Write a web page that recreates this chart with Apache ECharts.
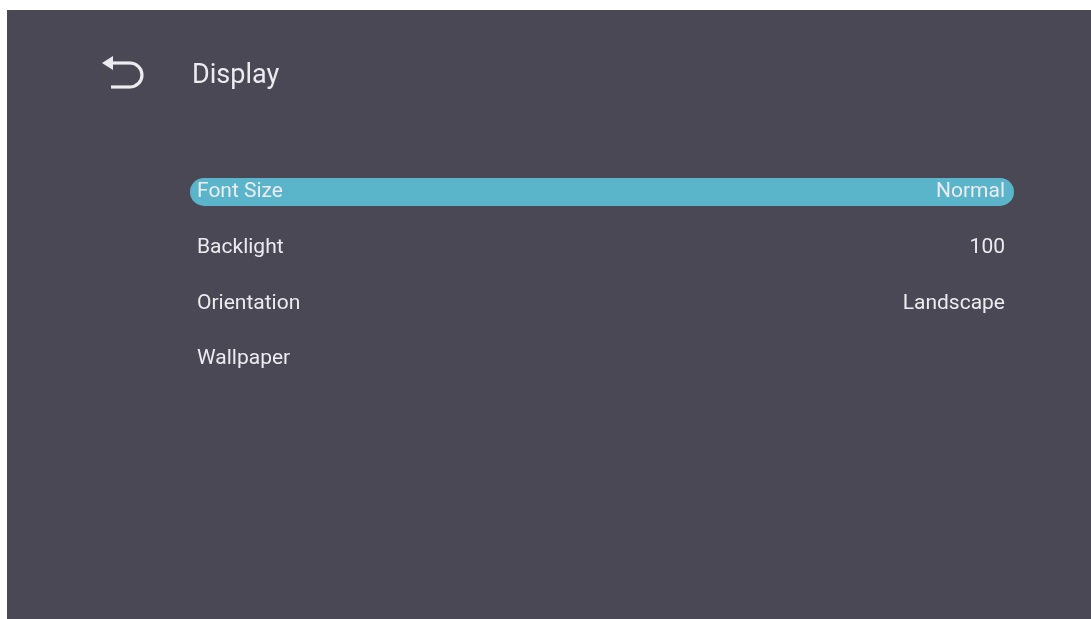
<!DOCTYPE html>
<html>
<head>
<meta charset="utf-8">
<script src="https://cdn.jsdelivr.net/npm/echarts@6/dist/echarts.min.js"></script>
<style>
  html, body { margin: 0; padding: 0; background: #ffffff; }
  #settingsChart { width: 1091px; height: 619px; }
</style>
</head>
<body>
<div id="settingsChart"></div>
<script>
const pageTitle = 'Display';
const items = ['Font Size', 'Backlight', 'Orientation', 'Wallpaper'];
const itemValues = ['Normal', '100', 'Landscape', ''];
const selected = [1, 0, 0, 0]; // baris yang sedang dipilih

const chartDom = document.getElementById('settingsChart');
const myChart = echarts.init(chartDom);

const textColor = '#ececf0';

const option = {
    backgroundColor: '#ffffff',
    animation: false,
    graphic: [
        {
            type: 'rect',
            z: -10,
            shape: { x: 7, y: 10, width: 1084, height: 609 },
            style: { fill: '#4b4856' }
        },
        // ikon kembali
        {
            type: 'polyline',
            shape: { points: [[110, 63], [130, 63]] },
            style: { stroke: textColor, lineWidth: 3.2, fill: null }
        },
        {
            type: 'arc',
            shape: { cx: 130, cy: 75, r: 12, startAngle: -Math.PI / 2, endAngle: Math.PI / 2, clockwise: true },
            style: { stroke: textColor, lineWidth: 3.2, fill: null }
        },
        {
            type: 'polyline',
            shape: { points: [[130, 87], [111, 87]] },
            style: { stroke: textColor, lineWidth: 3.2, fill: null }
        },
        {
            type: 'polygon',
            shape: { points: [[102, 63], [113, 56], [113, 70]] },
            style: { fill: textColor }
        },
        {
            type: 'text',
            style: {
                x: 192,
                y: 76,
                text: pageTitle,
                fill: textColor,
                font: '27px Roboto',
                verticalAlign: 'middle'
            }
        }
    ],
    grid: {
        left: 190,
        right: 77,
        top: 164,
        height: 223
    },
    xAxis: {
        type: 'value',
        min: 0,
        max: 1,
        show: false
    },
    yAxis: [
        {
            type: 'category',
            data: items,
            inverse: true,
            position: 'left',
            axisLine: { show: false },
            axisTick: { show: false },
            axisLabel: {
                inside: true,
                margin: 7,
                align: 'left',
                verticalAlign: 'middle',
                color: textColor,
                fontFamily: 'Roboto',
                fontSize: 21,
                padding: [6, 0, 0, 0]
            }
        },
        {
            type: 'category',
            data: itemValues,
            inverse: true,
            position: 'right',
            axisLine: { show: false },
            axisTick: { show: false },
            axisLabel: {
                inside: true,
                margin: 9,
                align: 'right',
                verticalAlign: 'middle',
                color: textColor,
                fontFamily: 'Roboto',
                fontSize: 21,
                padding: [6, 0, 0, 0]
            }
        }
    ],
    series: [{
        type: 'bar',
        data: selected,
        barWidth: 28,
        z: 0,
        itemStyle: {
            color: '#5bb5ca',
            borderRadius: 14
        }
    }]
};

myChart.setOption(option);
window.addEventListener('resize', () => myChart.resize());
</script>
</body>
</html>
